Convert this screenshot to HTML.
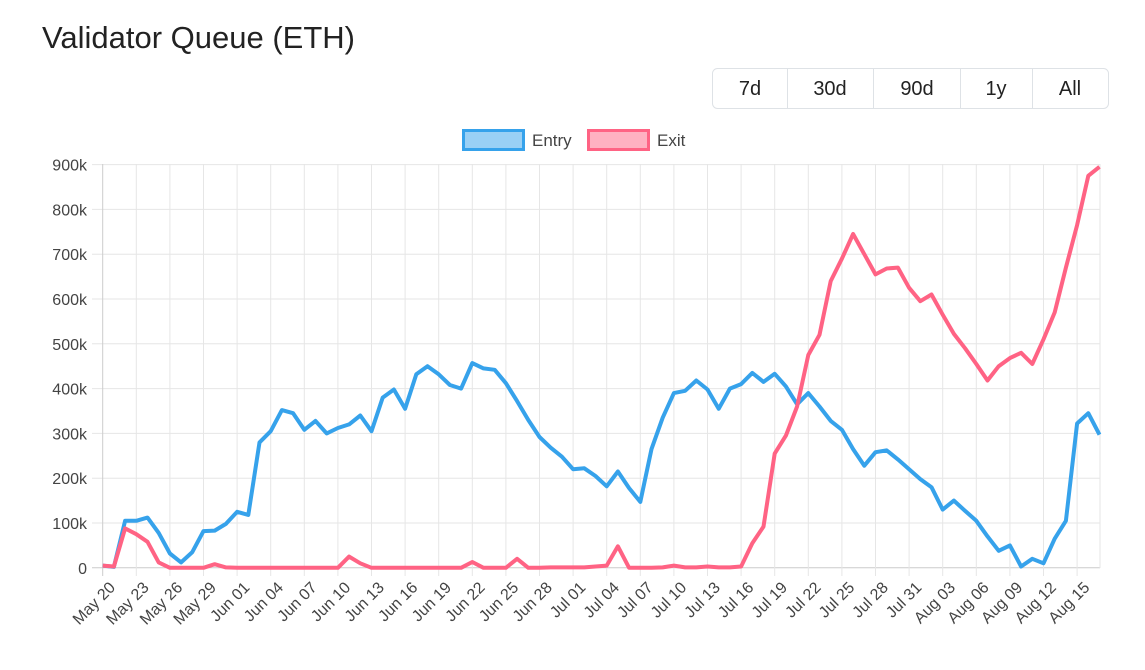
<!DOCTYPE html>
<html><head><meta charset="utf-8"><style>
body{margin:0;background:#fff;font-family:"Liberation Sans",sans-serif;}
</style></head><body>
<svg width="1145" height="665" xmlns="http://www.w3.org/2000/svg" font-family="Liberation Sans, sans-serif">
<text x="42" y="48" font-size="31" fill="#222">Validator Queue (ETH)</text>
<rect x="712.5" y="68.5" width="396" height="40" rx="5" fill="#fff" stroke="#dee2e6"/>
<g stroke="#dee2e6"><line x1="787.5" y1="69" x2="787.5" y2="108"/><line x1="873.5" y1="69" x2="873.5" y2="108"/><line x1="960.5" y1="69" x2="960.5" y2="108"/><line x1="1032.5" y1="69" x2="1032.5" y2="108"/></g>
<g font-size="20" fill="#222" text-anchor="middle"><text x="750" y="95">7d</text><text x="830" y="95">30d</text><text x="917" y="95">90d</text><text x="996" y="95">1y</text><text x="1070" y="95">All</text></g>
<rect x="463.5" y="130.5" width="60" height="19" fill="rgba(54,162,235,0.5)" stroke="#36a2eb" stroke-width="3"/>
<text x="532" y="146" font-size="17" fill="#444">Entry</text>
<rect x="588.5" y="130.5" width="60" height="19" fill="rgba(255,99,132,0.5)" stroke="#ff6384" stroke-width="3"/>
<text x="657" y="146" font-size="17" fill="#444">Exit</text>
<g id="grid" stroke="#e6e6e6" stroke-width="1"></g>
<g id="ylab" font-size="16" fill="#444" text-anchor="end"></g>
<g id="xlab" font-size="16" fill="#444" text-anchor="end"></g>
<polyline id="entry" fill="none" stroke="#36a2eb" stroke-width="4" stroke-linejoin="round"/>
<polyline id="exit" fill="none" stroke="#ff6384" stroke-width="4" stroke-linejoin="round"/>
</svg>
<script>
var X0=102.7,DX=11.2,Y0=567.8,SY=0.448;
function X(d){return X0+DX*d}function Y(v){return Y0-v*SY}
var ns="http://www.w3.org/2000/svg";
function el(t,a,p,txt){var e=document.createElementNS(ns,t);for(var k in a)e.setAttribute(k,a[k]);if(txt)e.textContent=txt;document.getElementById(p).appendChild(e);return e}
for(var i=0;i<=9;i++){var y=Y(i*100);el('line',{x1:92,x2:1100,y1:y,y2:y,stroke:i==0?'#ccc':'#e6e6e6'},'grid');el('text',{x:87,y:y+6},'ylab',i==0?'0':(i*100)+'k');}
var months=[["May",20,31],["Jun",1,30],["Jul",1,31],["Aug",1,31]];
var labels=[];var m=0,dd=20;
for(var d=0;d<90;d++){labels.push(months[m][0]+" "+(dd<10?"0"+dd:dd));dd++;if(dd>months[m][2]){m++;dd=1;}}
for(var d=0;d<=87;d+=3){var x=X(d);el('line',{x1:x,x2:x,y1:164,y2:576,stroke:d==0?'#ccc':'#e6e6e6'},'grid');el('text',{x:x+5,y:580,transform:'rotate(-45 '+(x+5)+' 580)',dy:'0.75em'},'xlab',labels[d]);}
el('line',{x1:1100,x2:1100,y1:164,y2:568,stroke:'#e6e6e6'},'grid');
var entry=[5,2,105,105,112,78,32,12,35,82,83,98,125,118,280,305,352,345,308,328,300,312,320,340,305,380,398,355,432,450,432,408,400,457,445,442,412,372,330,292,268,248,220,222,205,182,215,178,147,265,335,390,395,418,398,355,400,410,435,415,433,405,365,390,360,328,308,265,228,258,262,242,220,198,180,130,150,127,105,70,38,50,3,20,10,65,105,322,345,297];
var exit=[5,3,88,75,58,12,0,0,0,0,8,1,0,0,0,0,0,0,0,0,0,0,25,10,0,0,0,0,0,0,0,0,0,13,0,0,0,20,0,0,1,1,1,1,3,5,48,0,0,0,1,5,1,1,3,1,1,3,55,92,255,295,360,475,520,640,690,745,700,655,668,670,625,595,610,565,522,490,455,418,450,468,480,455,510,570,670,765,875,895];
function pts(a){return a.map(function(v,i){return X(i).toFixed(1)+","+Y(v).toFixed(1)}).join(" ")}
document.getElementById('entry').setAttribute('points',pts(entry));
document.getElementById('exit').setAttribute('points',pts(exit));
</script>
</body></html>
